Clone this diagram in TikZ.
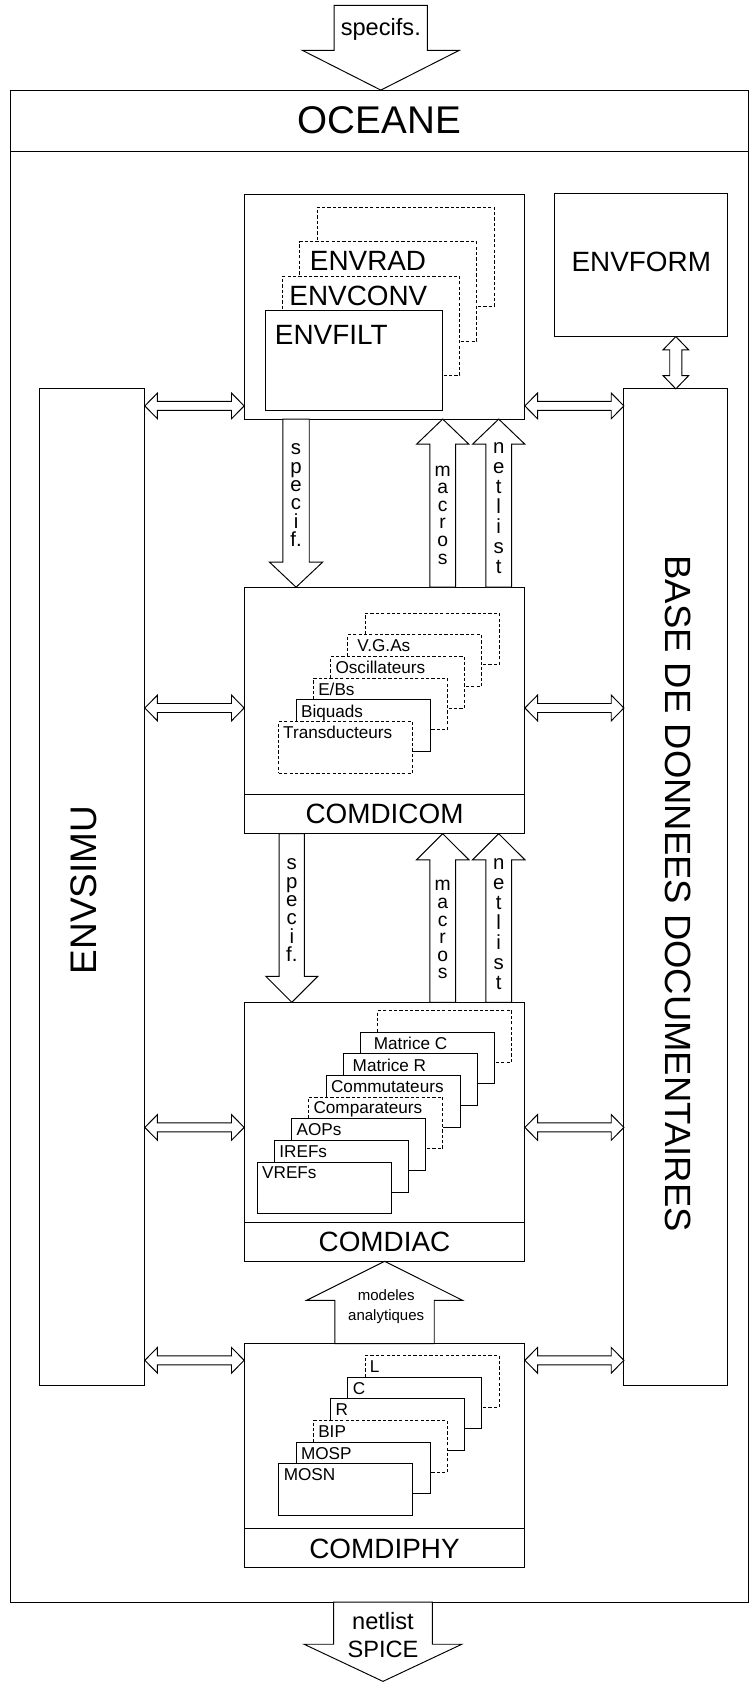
\documentclass[tikz,border=0pt]{standalone}
\usepackage{fontspec}
\setmainfont{Liberation Sans}
\usetikzlibrary{calc}
\newcommand\fsz[2]{\fontsize{#1}{#2}\selectfont}
% block arrow pointing down: #1 shaft start, #2 tip, #3 shaft half width, #4 head half width, #5 head length
\newcommand\bkdown[5]{%
  \draw[barrow] ($(#1)+(-#3,0)$) -- ($(#2)+(-#3,-#5)$) -- ($(#2)+(-#4,-#5)$) -- (#2)
    -- ($(#2)+(#4,-#5)$) -- ($(#2)+(#3,-#5)$) -- ($(#1)+(#3,0)$) -- cycle;}
\newcommand\bkup[5]{%
  \draw[barrow] ($(#1)+(-#3,0)$) -- ($(#2)+(-#3,#5)$) -- ($(#2)+(-#4,#5)$) -- (#2)
    -- ($(#2)+(#4,#5)$) -- ($(#2)+(#3,#5)$) -- ($(#1)+(#3,0)$) -- cycle;}
% horizontal double block arrow: #1 left tip, #2 right tip
\newcommand\bkdh[5]{%
  \draw[barrow] (#1) -- ($(#1)+(#5,-#4)$) -- ($(#1)+(#5,-#3)$) -- ($(#2)+(-#5,-#3)$)
    -- ($(#2)+(-#5,-#4)$) -- (#2) -- ($(#2)+(-#5,#4)$) -- ($(#2)+(-#5,#3)$)
    -- ($(#1)+(#5,#3)$) -- ($(#1)+(#5,#4)$) -- cycle;}
% vertical double block arrow: #1 top tip, #2 bottom tip
\newcommand\bkdv[5]{%
  \draw[barrow] (#1) -- ($(#1)+(#4,#5)$) -- ($(#1)+(#3,#5)$) -- ($(#2)+(#3,-#5)$)
    -- ($(#2)+(#4,-#5)$) -- (#2) -- ($(#2)+(-#4,-#5)$) -- ($(#2)+(-#3,-#5)$)
    -- ($(#1)+(-#3,#5)$) -- ($(#1)+(-#4,#5)$) -- cycle;}
\begin{document}
\begin{tikzpicture}[x=1pt,y=-1pt,
  every node/.style={inner sep=0pt,outer sep=0pt},
  lw/.style={line width=0.9pt},
  box/.style={draw,lw,fill=white,anchor=north west},
  dsh/.style={dash pattern=on 3pt off 2pt},
  barrow/.style={draw,lw,fill=white,line join=miter},
  sb/.style={box,minimum width=124.9,minimum height=48.2},
  eb/.style={box,minimum width=165,minimum height=92.5},
  bigt/.style={font=\fsz{26}{30}},
  smallt/.style={font=\fsz{16}{19},anchor=north west},
  envt/.style={font=\fsz{26}{30},anchor=north west},
  vlet/.style={align=center,anchor=north},
]
\useasboundingbox (0,0) rectangle (698,1568);

% x positions of the arrows
\coordinate (xsp) at (355,0);
\coordinate (xb) at (357,0);
\coordinate (xs1) at (276,0);
\coordinate (xs2) at (272,0);
\coordinate (xm) at (412.7,0);
\coordinate (xn) at (464.9,0);
\coordinate (xma) at (358.5,0);
% y positions of the side double arrows
\coordinate (ya) at (0,378.4);
\coordinate (yb) at (0,660);
\coordinate (yc) at (0,1051);
\coordinate (yd) at (0,1268.1);

% main frame
\node[box,minimum width=687.5,minimum height=1409.6] (oceane) at (10,84) {};
\draw[lw] ([yshift=-57pt]oceane.north west) -- ([yshift=-57pt]oceane.north east);
\node[font=\fsz{36}{40}] (oceanet) at ([yshift=-28.5pt]oceane.north) {OCEANE};

% input / output arrows
\coordinate (spTop) at (355,5);
\coordinate (spTip) at (oceane.north -| xsp);
\bkdown{spTop}{spTip}{43.5}{73}{37}
\node[font=\fsz{22}{26}] (spect) at (355,27) {specifs.};

\coordinate (botTip) at (357,1567.4);
\bkdown{oceane.south -| xb}{botTip}{46}{73.5}{34.6}
\node[align=center,font=\fsz{22}{26}] (spicet) at (357,1524) {netlist\\SPICE};

% side boxes
\node[box,minimum width=98,minimum height=929.5] (envsimu) at (37,362.5) {};
\node[font=\fsz{34.5}{40},rotate=90] (envsimut) at (78,829.5) {ENVSIMU};
\node[box,minimum width=96.9,minimum height=929.5] (bdd) at (581.6,362.5) {};
\node[font=\fsz{34}{40},rotate=-90] (bddt) at (632,833) {BASE DE DONNEES DOCUMENTAIRES};
\node[box,minimum width=161.3,minimum height=133] (envform) at (517.2,180.8) {};
\node[bigt] (envformt) at ([yshift=-63.1pt]envform.north) {ENVFORM};

% central boxes
\node[box,minimum width=261.7,minimum height=209.7] (envbox) at (227.6,181) {};
\node[box,minimum width=261.7,minimum height=229.8] (comdicom) at (227.6,547.4) {};
\node[box,minimum width=261.7,minimum height=241.4] (comdiac) at (227.6,934.4) {};
\node[box,minimum width=261.7,minimum height=209] (comdiphy) at (227.6,1252.6) {};
\draw[lw] ([yshift=36.4pt]comdicom.south west) -- ([yshift=36.4pt]comdicom.south east);
\draw[lw] ([yshift=36.6pt]comdiac.south west) -- ([yshift=36.6pt]comdiac.south east);
\draw[lw] ([yshift=36.3pt]comdiphy.south west) -- ([yshift=36.3pt]comdiphy.south east);
\node[bigt] (comdicomt) at ([yshift=18.2pt]comdicom.south) {COMDICOM};
\node[bigt] (comdiact) at ([yshift=18.3pt]comdiac.south) {COMDIAC};
\node[bigt] (comdiphyt) at ([yshift=18.15pt]comdiphy.south) {COMDIPHY};

% ENV stack
\node[eb,dsh] (env3) at (295.6,193.2) {};
\node[eb,dsh] (env2) at (279.6,225.4) {};
\node[envt] (env2t) at ([shift={(9.3pt,-9.3pt)}]env2.north west) {ENVRAD};
\node[eb,dsh] (env1) at (263.6,257.6) {};
\node[envt] (env1t) at ([shift={(6.2pt,-9.3pt)}]env1.north west) {ENVCONV};
\node[eb] (env0) at (247.6,289.8) {};
\node[envt] (env0t) at ([shift={(8.7pt,-13pt)}]env0.north west) {ENVFILT};

% COMDICOM stack
\node[sb,dsh] (cc5) at (340.3,571.6) {};
\node[sb,dsh] (cc4) at (324.24,591.8) {};
\node[smallt] (cc4t) at ([shift={(9pt,-4.6pt)}]cc4.north west) {V.G.As};
\node[sb,dsh] (cc3) at (308.18,612.0) {};
\node[smallt] (cc3t) at ([shift={(4.6pt,-4.6pt)}]cc3.north west) {Oscillateurs};
\node[sb,dsh] (cc2) at (292.12,632.2) {};
\node[smallt] (cc2t) at ([shift={(4.6pt,-4.6pt)}]cc2.north west) {E/Bs};
\node[sb] (cc1) at (276.06,652.4) {};
\node[smallt] (cc1t) at ([shift={(4.6pt,-4.6pt)}]cc1.north west) {Biquads};
\node[sb,dsh] (cc0) at (260,672.6) {};
\node[smallt] (cc0t) at ([shift={(4pt,-4pt)}]cc0.north west) {Transducteurs};

% COMDIAC stack
\node[sb,dsh] (ca7) at (352.22,941.9) {};
\node[sb] (ca6) at (336.16,962.1) {};
\node[smallt] (ca6t) at ([shift={(12.4pt,-4.6pt)}]ca6.north west) {Matrice C};
\node[sb] (ca5) at (320.1,982.3) {};
\node[smallt] (ca5t) at ([shift={(8.7pt,-4.6pt)}]ca5.north west) {Matrice R};
\node[sb] (ca4) at (304.04,1002.5) {};
\node[smallt] (ca4t) at ([shift={(4.6pt,-4.6pt)}]ca4.north west) {Commutateurs};
\node[sb,dsh] (ca3) at (287.98,1022.7) {};
\node[smallt] (ca3t) at ([shift={(4.3pt,-4.6pt)}]ca3.north west) {Comparateurs};
\node[sb] (ca2) at (271.92,1042.9) {};
\node[smallt] (ca2t) at ([shift={(4.6pt,-4.6pt)}]ca2.north west) {AOPs};
\node[sb] (ca1) at (255.86,1063.1) {};
\node[smallt] (ca1t) at ([shift={(4.6pt,-4.6pt)}]ca1.north west) {IREFs};
\node[sb] (ca0) at (239.8,1083.3) {};
\node[smallt] (ca0t) at ([shift={(4.6pt,-4.6pt)}]ca0.north west) {VREFs};

% COMDIPHY stack
\node[sb,dsh] (cp5) at (340.3,1263.7) {};
\node[smallt] (cp5t) at ([shift={(4.6pt,-4.6pt)}]cp5.north west) {L};
\node[sb] (cp4) at (324.24,1283.9) {};
\node[smallt] (cp4t) at ([shift={(4.6pt,-4.6pt)}]cp4.north west) {C};
\node[sb] (cp3) at (308.18,1304.1) {};
\node[smallt] (cp3t) at ([shift={(4.6pt,-4.6pt)}]cp3.north west) {R};
\node[sb,dsh] (cp2) at (292.12,1324.3) {};
\node[smallt] (cp2t) at ([shift={(4.6pt,-4.6pt)}]cp2.north west) {BIP};
\node[sb] (cp1) at (276.06,1344.5) {};
\node[smallt] (cp1t) at ([shift={(4.6pt,-4.6pt)}]cp1.north west) {MOSP};
\node[sb] (cp0) at (260,1364.7) {};
\node[smallt] (cp0t) at ([shift={(4.6pt,-4.6pt)}]cp0.north west) {MOSN};

% vertical flow arrows
\bkdown{envbox.south -| xs1}{comdicom.north -| xs1}{12.3}{24.8}{23.4}
\node[vlet,font=\fsz{19}{17.1}] (sp1t) at ($(envbox.south -| xs1)+(0,23)$) {s\\p\\e\\c\\i\\f.};
\bkup{comdicom.north -| xm}{envbox.south -| xm}{12}{24.4}{23.4}
\node[vlet,font=\fsz{18}{16.4}] (ma1t) at ($(envbox.south -| xm)+(0,43.5)$) {m\\a\\c\\r\\o\\s};
\bkup{comdicom.north -| xn}{envbox.south -| xn}{12}{24.4}{23.4}
\node[vlet,font=\fsz{19}{18.6}] (ne1t) at ($(envbox.south -| xn)+(0,22.3)$) {n\\e\\t\\l\\i\\s\\t};

\bkdown{comdicom.south -| xs2}{comdiac.north -| xs2}{11.7}{24.2}{24.2}
\node[vlet,font=\fsz{19}{17.1}] (sp2t) at ($(comdicom.south -| xs2)+(0,23.4)$) {s\\p\\e\\c\\i\\f.};
\bkup{comdiac.north -| xm}{comdicom.south -| xm}{12}{24.4}{24.3}
\node[vlet,font=\fsz{18}{16.4}] (ma2t) at ($(comdicom.south -| xm)+(0,43.7)$) {m\\a\\c\\r\\o\\s};
\bkup{comdiac.north -| xn}{comdicom.south -| xn}{12}{24.4}{24.3}
\node[vlet,font=\fsz{19}{18.6}] (ne2t) at ($(comdicom.south -| xn)+(0,23.3)$) {n\\e\\t\\l\\i\\s\\t};

\bkup{comdiphy.north -| xma}{comdiac.south -| xma}{46.3}{72.7}{36.4}
\node[align=center,font=\fsz{14}{18.6}] (modt) at (360,1217.9) {modeles\\analytiques};

% side double arrows
\bkdh{envsimu.east |- ya}{envbox.west |- ya}{4.2}{12}{11.8}
\bkdh{envbox.east |- ya}{bdd.west |- ya}{4.2}{12}{11.8}
\bkdh{envsimu.east |- yb}{comdicom.west |- yb}{4.2}{12}{11.8}
\bkdh{comdicom.east |- yb}{bdd.west |- yb}{4.2}{12}{11.8}
\bkdh{envsimu.east |- yc}{comdiac.west |- yc}{4.2}{12}{11.8}
\bkdh{comdiac.east |- yc}{bdd.west |- yc}{4.2}{12}{11.8}
\bkdh{envsimu.east |- yd}{comdiphy.west |- yd}{4.2}{12}{11.8}
\bkdh{comdiphy.east |- yd}{bdd.west |- yd}{4.2}{12}{11.8}
\bkdv{bdd.north |- envform.south}{bdd.north}{5.7}{12}{12.4}
\end{tikzpicture}
\end{document}
